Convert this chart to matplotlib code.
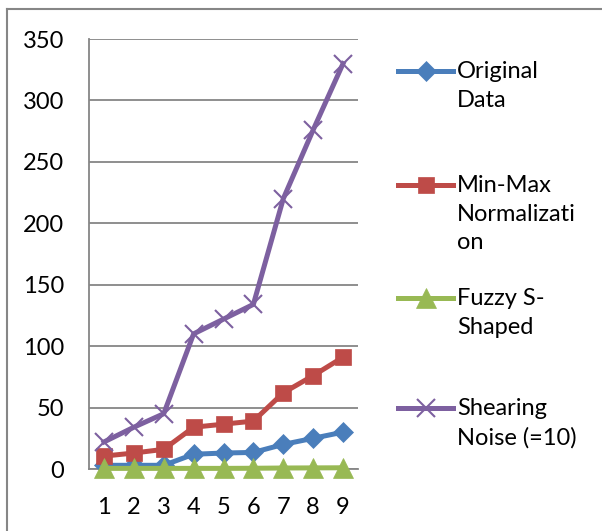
import matplotlib
matplotlib.use("Agg")
import matplotlib.pyplot as plt
from matplotlib.lines import Line2D

# data
categories = [1, 2, 3, 4, 5, 6, 7, 8, 9]
original = [3, 3, 3, 12, 13, 13.5, 20, 25, 30]
min_max = [10.5, 13, 16, 34, 36.5, 39, 62, 76, 91]
fuzzy = [0.5, 0.5, 0.5, 0.5, 0.5, 0.6, 0.8, 0.9, 1.0]
shearing = [22, 34, 45, 110, 122, 134, 220, 276, 330]
y_ticks = [0, 50, 100, 150, 200, 250, 300, 350]

series_labels = ["Original\nData", "Min-Max\nNormalizati\non", "Fuzzy S-\nShaped", "Shearing\nNoise (=10)"]
series_colors = ["#4A7EBB", "#BE4B48", "#98B954", "#7D60A0"]
series_markers = ["D", "s", "^", "x"]
series_sizes = [10, 12, 14, 13]

plt.rcParams['font.family'] = ['Lato', 'DejaVu Sans']
FS = 17

W, H = 602, 531
fig = plt.figure(figsize=(W / 100, H / 100), dpi=100)
ax = fig.add_axes([89 / W, 1 - 469 / H, (358 - 89) / W, (469 - 39) / H])

all_series = [original, min_max, fuzzy, shearing]
for vals, col, mk, ms in zip(all_series, series_colors, series_markers, series_sizes):
    ax.plot(categories, vals, color=col, lw=3.6, marker=mk, markersize=ms,
            markerfacecolor=col, markeredgecolor=col, markeredgewidth=1.5 if mk == "x" else 0.5,
            clip_on=False, zorder=3)

ax.set_xlim(0.5, 9.5)
ax.set_ylim(0, 350)
ax.set_yticks(y_ticks)
ax.set_xticks(categories)
ax.yaxis.grid(True, color="#868686", lw=1.3)
ax.set_axisbelow(True)
for s in ["top", "right"]:
    ax.spines[s].set_visible(False)
for s in ["left", "bottom"]:
    ax.spines[s].set_color("#868686")
    ax.spines[s].set_linewidth(1.3)
ax.tick_params(axis="both", length=0, labelsize=FS, colors="black")
ax.tick_params(axis="y", pad=18)
ax.tick_params(axis="x", pad=20)

# legend drawn Excel-style: marker aligned with the first text line
leg_y = [71, 185, 298, 408]
for lab, col, mk, ms, y in zip(series_labels, series_colors, series_markers, series_sizes, leg_y):
    fy = 1 - y / H
    fig.add_artist(Line2D([398 / W, 453 / W], [fy, fy], color=col, lw=3.6))
    fig.add_artist(Line2D([425.5 / W], [fy], color=col, marker=mk, markersize=ms,
                          markerfacecolor=col, markeredgecolor=col,
                          markeredgewidth=1.5 if mk == "x" else 0.5))
    fig.text(457 / W, fy + 10 / H, lab, fontsize=FS, va="top", ha="left",
             linespacing=1.45)

# chart border (only top and left visible in the crop)
fig.add_artist(Line2D([7 / W, 1], [1 - 9 / H, 1 - 9 / H], color="#868686", lw=1.5))
fig.add_artist(Line2D([7 / W, 7 / W], [0, 1 - 9 / H], color="#868686", lw=1.5))

fig.savefig("out.png", dpi=100)
